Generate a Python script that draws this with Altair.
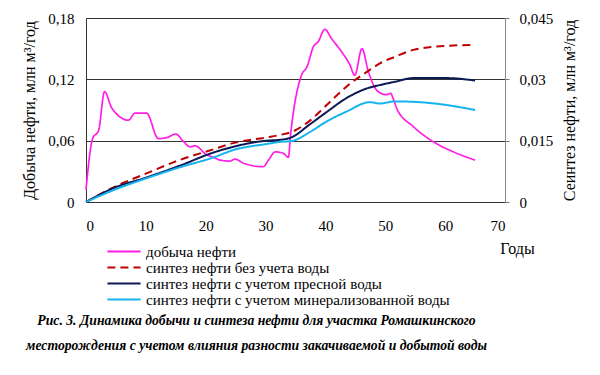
import altair as alt
import pandas as pd

# Production (left axis, mln m3/yr)
prod_year = [0, 1.1, 2.1, 3.1, 4.3, 7.1, 8.2, 10.1, 12.1, 13.5, 15.0, 16.3, 17.4, 18.2, 20.2,
             21.3, 22.4, 24.1, 24.9, 26.3, 29.6, 30.5, 31.6, 33.0, 33.8, 34.2, 36.0, 36.9,
             38.0, 38.8, 39.9, 41.0, 42.7, 44.1, 44.9, 46.1, 47.2, 48.8, 50.2, 50.9, 51.3,
             51.9, 54.7, 58.0, 61.4, 65.0]
prod_val = [0.012, 0.062, 0.070, 0.108, 0.092, 0.080, 0.087, 0.087, 0.062, 0.063, 0.0665, 0.059,
            0.054, 0.055, 0.046, 0.0437, 0.041, 0.040, 0.042, 0.038, 0.0345, 0.041, 0.049, 0.0476,
            0.0437, 0.067, 0.124, 0.132, 0.152, 0.157, 0.169, 0.160, 0.147, 0.134, 0.124, 0.150,
            0.127, 0.108, 0.105, 0.1063, 0.1014, 0.0917, 0.0737, 0.059, 0.049, 0.041]

# Synthesis (right axis)
syn_year = [0, 4.6, 10.1, 15.7, 21.3, 24.6, 30.2, 32.4, 34.3, 37.4, 40.2, 43.5, 47.4, 49.1,
            51.6, 54.7, 60.3, 65.0]
syn_none = [0, 0.0036, 0.0070, 0.0103, 0.0129, 0.0144, 0.0158, 0.0164, 0.0171, 0.0199, 0.0237,
            0.0282, 0.0323, 0.0339, 0.0355, 0.0372, 0.0382, 0.0384]
syn_fresh = [0, 0.0034, 0.0060, 0.0089, 0.0121, 0.0135, 0.0150, 0.0152, 0.0158, 0.0190, 0.0220,
             0.0254, 0.0280, 0.0286, 0.0294, 0.0303, 0.0303, 0.0297]
syn_mineral = [0, 0.0029, 0.0058, 0.0085, 0.0109, 0.0127, 0.0142, 0.0147, 0.0149, 0.0171, 0.0197,
               0.0221, 0.0244, 0.0241, 0.0246, 0.0245, 0.0237, 0.0225]

series = ["добыча нефти", "синтез нефти без учета воды",
          "синтез нефти с учетом пресной воды", "синтез нефти с учетом минерализованной воды"]
colors = ["#FF1EE6", "#C00000", "#0B1A55", "#16B4EE"]
dashes = [[1, 0], [8, 5], [1, 0], [1, 0]]

df_prod = pd.DataFrame({"year": prod_year, "v": prod_val, "s": series[0]})
rows = []
for name, vals in zip(series[1:], [syn_none, syn_fresh, syn_mineral]):
    for y, v in zip(syn_year, vals):
        rows.append({"year": y, "v": v, "s": name})
df_syn = pd.DataFrame(rows)

FONT = "Liberation Serif"

xenc = alt.X("year:Q", scale=alt.Scale(domain=[0, 70], nice=False),
             axis=alt.Axis(values=[0, 10, 20, 30, 40, 50, 60, 70], title="Годы",
                           titleX=431, titleY=38, titleFontWeight="normal",
                           titleFontSize=16, grid=False, tickSize=0, labelPadding=16,
                           domainColor="#333", labelFontSize=15,
                           labelFont=FONT, titleFont=FONT))

color = alt.Color("s:N", scale=alt.Scale(domain=series, range=colors),
                  legend=alt.Legend(title=None, orient="none", legendX=20, legendY=226,
                                    symbolType="stroke", symbolSize=1100, symbolStrokeWidth=2,
                                    labelFontSize=15, labelFont=FONT, rowPadding=0,
                                    clipHeight=15, labelOffset=4,
                                    labelLimit=400, symbolOffset=0))
dash = alt.StrokeDash("s:N", scale=alt.Scale(domain=series, range=dashes), legend=None)

left = alt.Chart(df_prod).mark_line(strokeWidth=1.7, interpolate="monotone").encode(
    x=xenc,
    y=alt.Y("v:Q", scale=alt.Scale(domain=[0, 0.18], nice=False),
            axis=alt.Axis(values=[0, 0.06, 0.12, 0.18],
                          labelExpr="replace(datum.value == 0 ? '0' : format(datum.value, '.2~f'), '.', ',')",
                          title="Добыча нефти, млн  м³/год", titleFontWeight="normal",
                          titleFontSize=16, gridColor="#333", gridWidth=1.2,
                          tickSize=0, labelPadding=12, titlePadding=10,
                          domainColor="#333", labelFontSize=15,
                          labelFont=FONT, titleFont=FONT)),
    color=color, strokeDash=dash)

right = alt.Chart(df_syn).mark_line(strokeWidth=2, interpolate="monotone").encode(
    x=xenc,
    y=alt.Y("v:Q", scale=alt.Scale(domain=[0, 0.045], nice=False),
            axis=alt.Axis(values=[0, 0.015, 0.03, 0.045], orient="right",
                          labelExpr="replace(datum.value == 0 ? '0' : format(datum.value, '.3~f'), '.', ',')",
                          title="Сеинтез нефти, млн  м³/год", titleFontWeight="normal",
                          titleAngle=270, titleFontSize=16, grid=False, tickSize=4,
                          tickColor="#777", labelPadding=10, titlePadding=25,
                          domainColor="#888", labelFontSize=15,
                          labelFont=FONT, titleFont=FONT)),
    color=color, strokeDash=dash)

chart = alt.layer(left, right).resolve_scale(y="independent").properties(
    width=419, height=184,
    autosize=alt.AutoSizeParams(type="none"),
    padding={"left": 78, "top": 10, "right": 80, "bottom": 165},
    title=alt.TitleParams(
        ["Рис. 3. Динамика добычи и синтеза нефти для участка Ромашкинского",
         "месторождения с учетом влияния разности закачиваемой и добытой воды"],
        orient="bottom", anchor="middle", dx=-39, offset=0, dy=6,
        fontSize=13.7, fontStyle="italic", fontWeight="bold", font=FONT, lineHeight=25,
        color="black"),
).configure_view(stroke="#888", strokeWidth=1).configure(font=FONT).configure_axis(
    labelColor="black", titleColor="black"
)

chart.save("out.html", embed_options={"renderer": "svg", "actions": False})
